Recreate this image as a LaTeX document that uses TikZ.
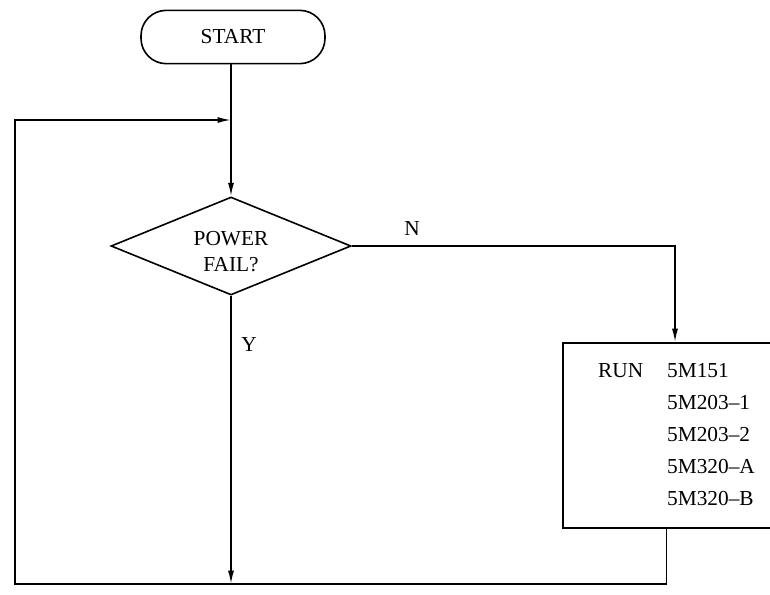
\documentclass[tikz,border=0pt]{standalone}
\usepackage{fontspec}
\setmainfont{Liberation Serif}
\usetikzlibrary{shapes.geometric, arrows.meta, positioning}
\begin{document}
\begin{tikzpicture}[x=0.75pt, y=-0.75pt, line width=1.2pt,
    every node/.style={font=\fontsize{16}{24}\selectfont},
    terminal/.style={draw, rectangle, rounded corners=19pt, minimum width=138pt, minimum height=40pt},
    decision/.style={draw, diamond, aspect=2.45, inner sep=0pt, minimum width=180pt, minimum height=73.5pt,
        align=center, text height=38pt, font=\fontsize{16}{19}\selectfont},
    process/.style={draw, rectangle, minimum width=170pt, minimum height=139pt},
    flow/.style={-{Latex[length=10pt,width=4.5pt]}}]
    \def\pageW{770}
    \def\pageH{594}

    % Page frame
    \useasboundingbox (0,0) rectangle (\pageW,\pageH);
    \clip (0,0) rectangle (\pageW,\pageH);

    % Boxes
    \node[terminal] (start) at (233,37) {START};
    \node[decision] (power) at (231,246) {POWER\\FAIL?};
    \node[process] (run) at (676.5,435.5) {%
        \begin{tabular}{@{}l@{\hspace{18pt}}l@{}}
            RUN & 5M151\\
                & 5M203\textendash1\\
                & 5M203\textendash2\\
                & 5M320\textendash A\\
                & 5M320\textendash B
        \end{tabular}};

    % Branch labels
    \node (nlabel) at (412,229) {N};
    \node (ylabel) at (249,345) {Y};

    % Turning points of the loop
    \coordinate (nTurn) at (675,246);
    \coordinate (loopBL) at (15,584);
    \coordinate (loopTL) at (15,120);
    \coordinate (runExit) at ([xshift=-7.5pt]run.south);

    % Connectors
    \draw[flow] (power.north |- start.south) -- (power);
    \draw[flow] (power.east) -- (nTurn) -- (run.north -| nTurn);
    \draw[flow] (power.south) -- (power.south |- loopBL);
    \draw[flow] (runExit) -- (runExit |- loopBL) -- (loopBL) -- (loopTL) -- (power.north |- loopTL);

\end{tikzpicture}
\end{document}
